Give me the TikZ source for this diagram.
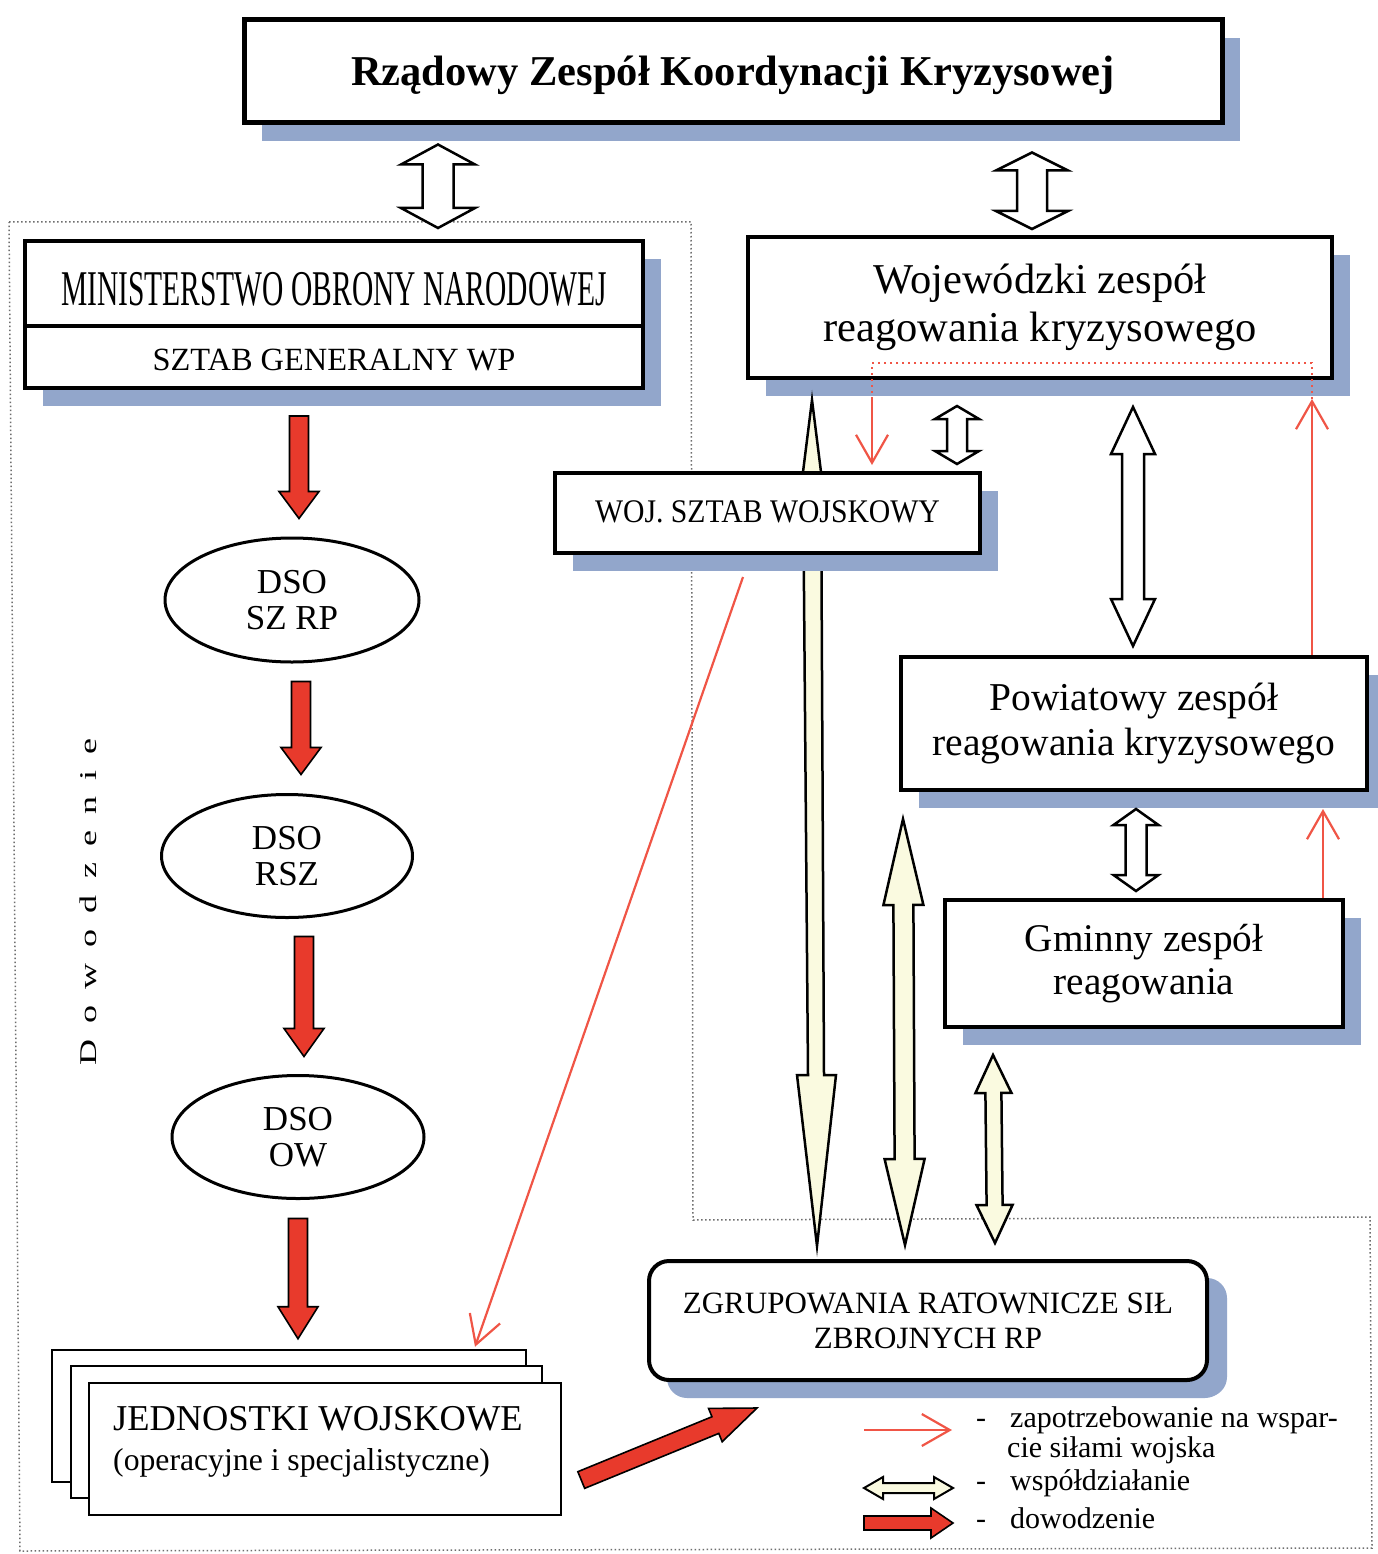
\documentclass[tikz,border=0pt]{standalone}
\usepackage{fontspec}
\setmainfont{Liberation Serif}
\usepackage{graphicx}
\usetikzlibrary{calc,shadows,arrows.meta,shapes.geometric}
\definecolor{shadowc}{RGB}{146,166,203}
\definecolor{redfill}{RGB}{232,58,44}
\definecolor{redline}{RGB}{240,85,70}
\definecolor{cream}{RGB}{250,250,224}
\definecolor{dotc}{RGB}{110,110,110}
\newcommand\blockarr[6]{%
 \coordinate (tmpS) at (#1);
 \coordinate (tmpE) at (#2);
 \coordinate (tmpH) at ($(tmpE)!#5!(tmpS)$);
 \draw[#6] ($(tmpS)!#3!90:(tmpE)$) -- ($(tmpH)!#3!-90:(tmpS)$) -- ($(tmpH)!#4!-90:(tmpS)$) -- (tmpE) -- ($(tmpH)!#4!90:(tmpS)$) -- ($(tmpH)!#3!90:(tmpS)$) -- ($(tmpS)!#3!-90:(tmpE)$) -- cycle;}
\newcommand\dblarr[6]{%
 \coordinate (tmpS) at (#1);
 \coordinate (tmpE) at (#2);
 \coordinate (tmpA) at ($(tmpS)!#5!(tmpE)$);
 \coordinate (tmpB) at ($(tmpE)!#5!(tmpS)$);
 \draw[#6] (tmpS) -- ($(tmpA)!#4!90:(tmpE)$) -- ($(tmpA)!#3!90:(tmpE)$) -- ($(tmpB)!#3!-90:(tmpS)$) -- ($(tmpB)!#4!-90:(tmpS)$) -- (tmpE) -- ($(tmpB)!#4!90:(tmpS)$) -- ($(tmpB)!#3!90:(tmpS)$) -- ($(tmpA)!#3!-90:(tmpE)$) -- ($(tmpA)!#4!-90:(tmpE)$) -- cycle;}
\tikzset{
 shadowed/.style={drop shadow={shadow xshift=18pt,shadow yshift=-18pt,fill=shadowc,opacity=1,draw=none}},
 boxx/.style={draw=black,fill=white,line width=4pt,inner sep=0pt,align=center,shadowed},
 ell/.style={ellipse,draw=black,fill=white,line width=3pt,inner sep=0pt,align=center},
 jwbox/.style={draw=black,fill=white,line width=2.5pt,minimum width=472pt,minimum height=132pt,inner sep=0pt},
 hollow/.style={draw=black,fill=white,line width=2.5pt,line join=miter},
 creamarr/.style={draw=black,fill=cream,line width=2.5pt,line join=miter},
 redarr/.style={draw=black,fill=redfill,line width=1.6pt,line join=miter},
 thinred/.style={draw=redline,line width=2.2pt,-{Straight Barb[length=28pt,width=32pt]}},
 lgtext/.style={anchor=base west,inner sep=0pt,font=\fontsize{30}{30}\selectfont},
}
\begin{document}
\begin{tikzpicture}[x=1pt,y=-1pt]
\fill[white] (0,0) rectangle (1377,1554);
\useasboundingbox (0,0) rectangle (1377,1554);

% dotted frame
\draw[dotc,line width=1.5pt,dash pattern=on 1.5pt off 2.5pt] (9,222) -- (691,222) -- (693,1220) -- (1370,1217) -- (1372,1548) -- (20,1551) -- cycle;

% boxes
\node[boxx,line width=5pt,minimum width=978pt,minimum height=103pt,text height=29pt,text depth=0pt,font=\bfseries\fontsize{42.5}{48}\selectfont] (rzad) at (733,71.5) {Rządowy Zespół Koordynacji Kryzysowej};
\node[boxx,minimum width=618pt,minimum height=85pt,text height=43pt,text depth=0pt] (mon) at (334,283.5) {\scalebox{0.59}[1]{\fontsize{50}{50}\selectfont MINISTERSTWO OBRONY NARODOWEJ}};
\node[boxx,minimum width=618pt,minimum height=62pt,text height=26pt,text depth=0pt,font=\fontsize{32.4}{36}\selectfont] (sg) at (334,357) {SZTAB GENERALNY WP};
\node[boxx,minimum width=584pt,minimum height=141pt,font=\fontsize{42.5}{48}\selectfont] (woj) at (1040,307.5) {Wojewódzki zespół\\reagowania kryzysowego};
\node[boxx,minimum width=466pt,minimum height=133pt,font=\fontsize{39.5}{45}\selectfont] (pow) at (1134,723.5) {Powiatowy zespół\\reagowania kryzysowego};
\node[boxx,minimum width=398pt,minimum height=127pt,font=\fontsize{39.2}{43}\selectfont] (gmi) at (1144,963.5) {Gminny zespół\\reagowania};
\node[boxx,rounded corners=20pt,minimum width=558pt,minimum height=119pt,drop shadow={shadow xshift=20pt,shadow yshift=-17pt,fill=shadowc,opacity=1,draw=none},font=\fontsize{31}{35}\selectfont] (zgr) at (928,1320.5) {ZGRUPOWANIA RATOWNICZE SIŁ\\ZBROJNYCH RP};

\node[ell,minimum width=254pt,minimum height=124pt,font=\fontsize{35}{36}\selectfont] (e1) at (292,600) {DSO\\SZ RP};
\node[ell,minimum width=251pt,minimum height=123pt,font=\fontsize{35}{36}\selectfont] (e2) at (287,856) {DSO\\RSZ};
\node[ell,minimum width=252pt,minimum height=123pt,font=\fontsize{35}{36}\selectfont] (e3) at (298,1137) {DSO\\OW};

\node[jwbox,minimum width=474pt] (jw3) at (289,1416) {};
\node[jwbox,minimum width=471pt] (jw2) at (306.5,1432) {};
\node[jwbox] (jw1) at (325,1449) {};
\node[anchor=base west,inner sep=0pt,font=\fontsize{36.4}{36}\selectfont] (jwt1) at (113,1430) {JEDNOSTKI WOJSKOWE};
\node[anchor=base west,inner sep=0pt,font=\fontsize{31.7}{32}\selectfont] (jwt2) at (113,1470) {(operacyjne i specjalistyczne)};

% long cream wedge arrow behind the WOJ. SZTAB box
\coordinate (w1a) at ($(woj.south)+(-228,20)$);
\coordinate (w1b) at ($(zgr.north)+(-111,-13)$);
\draw[creamarr] (w1a) -- ($(w1a)+(9,72)$) -- ($(w1b)+(7,-171)$) -- ($(w1b)+(19,-171)$) -- (w1b) -- ($(w1b)+(-20,-171)$) -- ($(w1b)+(-9,-171)$) -- ($(w1a)+(-9,72)$) -- cycle;

\node[boxx,minimum width=425pt,minimum height=80pt,text height=18pt,text depth=0pt] (wsw) at (767.5,513) {\scalebox{0.9}[1]{\fontsize{33}{36}\selectfont WOJ. SZTAB WOJSKOWY}};

% hollow double arrows
\dblarr{$(rzad.south)+(-295,19)$}{$(mon.north)+(104,-11)$}{15.5pt}{37pt}{20pt}{hollow}
\dblarr{$(rzad.south)+(299,27)$}{$(woj.north)+(-8,-6)$}{15pt}{36pt}{18pt}{hollow}
\dblarr{$(woj.south)+(-83,26)$}{$(wsw.north)+(189.5,-7)$}{10pt}{22pt}{13pt}{hollow}
\dblarr{$(woj.south)+(93,27)$}{$(pow.north)+(-1,-9)$}{11pt}{22pt}{47pt}{hollow}
\dblarr{$(pow.south)+(2,17)$}{$(gmi.north)+(-8,-7)$}{10.5pt}{22.5pt}{16pt}{hollow}

% cream double arrows
\dblarr{$(pow.south)+(-231,27)$}{$(zgr.north)+(-23,-14)$}{10pt}{20pt}{86pt}{creamarr}
\dblarr{$(gmi.south)+(-151,26)$}{$(zgr.north)+(67,-16)$}{8pt}{18pt}{38pt}{creamarr}

% red command arrows
\blockarr{$(sg.south)+(-35,26)$}{$(e1.north)+(7,-18)$}{9.5pt}{20pt}{27pt}{redarr}
\blockarr{$(e1.south)+(9,18)$}{$(e2.north)+(14,-18.5)$}{9.5pt}{20pt}{27pt}{redarr}
\blockarr{$(e2.south)+(17,17.5)$}{$(e3.north)+(6,-17.5)$}{9.5pt}{20pt}{28pt}{redarr}
\blockarr{$(e3.south)+(0,18.5)$}{$(jw3.north)+(9,-10)$}{9.5pt}{20pt}{32pt}{redarr}
\blockarr{$(jw1.east)+(19,31)$}{$(zgr.west)+(110,87.5)$}{9pt}{18pt}{45pt}{redarr}

% red thin request lines
\draw[redline,line width=2.2pt,dash pattern=on 2pt off 4pt] ($(woj.south)+(272,19)$) -- ($(woj.south)+(272,-17)$) -- ($(woj.south)+(-168,-17)$) -- ($(woj.south)+(-168,19)$);
\draw[thinred] ($(woj.south)+(-168,19)$) -- ($(wsw.north)+(104.5,-6)$);
\draw[thinred] ($(pow.north)+(178,0)$) -- ($(woj.south)+(272,19)$);
\draw[thinred] ($(gmi.north)+(179,0)$) -- ($(pow.south)+(189,17)$);
\draw[thinred] ($(wsw.south)+(-24.5,22)$) -- ($(jw3.north)+(186,-2)$);

% vertical label
\node[rotate=90,inner sep=0pt] (dow) at (88,902) {\scalebox{1.5}[1]{\fontsize{24}{24}\selectfont D\hspace{10.7pt}o\hspace{10.7pt}w\hspace{10.7pt}o\hspace{10.7pt}d\hspace{10.7pt}z\hspace{10.7pt}e\hspace{10.7pt}n\hspace{10.7pt}i\hspace{10.7pt}e}};

% legend
\coordinate (lga) at (864,1430);
\coordinate (lgb) at (952,1430);
\coordinate (lgc) at (864,1488);
\coordinate (lgd) at (953,1488);
\coordinate (lge) at (864,1523);
\coordinate (lgf) at (953,1523);
\draw[thinred] (lga) -- (lgb);
\dblarr{lgc}{lgd}{5pt}{11pt}{19pt}{creamarr,line width=2pt}
\blockarr{lge}{lgf}{7pt}{15pt}{22pt}{redarr}
\node[lgtext] (lgm1) at (976,1427) {-};
\node[lgtext] (lgm2) at (976,1490) {-};
\node[lgtext] (lgm3) at (976,1528) {-};
\node[lgtext] (lgt1) at (1010,1427) {zapotrzebowanie na wspar-};
\node[lgtext] (lgt2) at (1007,1457) {cie siłami wojska};
\node[lgtext] (lgt3) at (1010,1490) {współdziałanie};
\node[lgtext] (lgt4) at (1010,1528) {dowodzenie};
\end{tikzpicture}
\end{document}
